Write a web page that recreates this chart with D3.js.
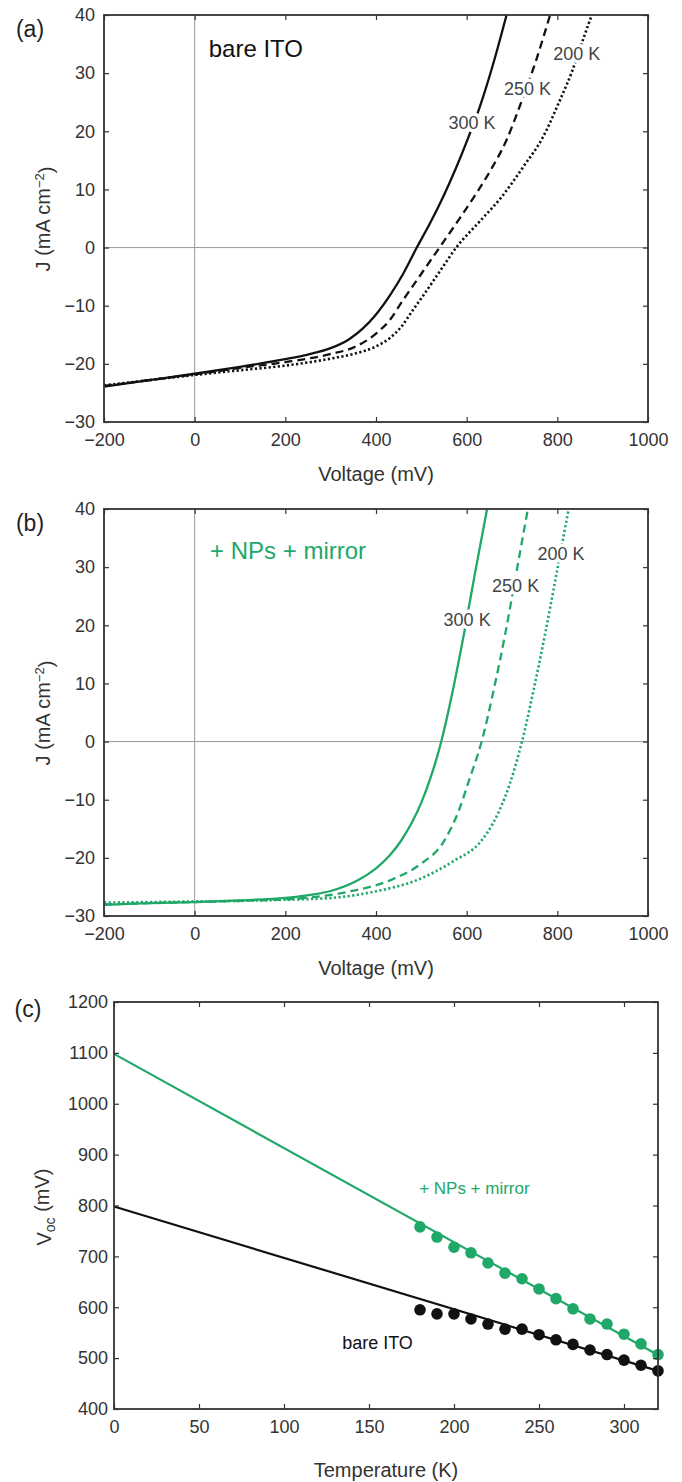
<!DOCTYPE html>
<html>
<head>
<meta charset="utf-8">
<script src="https://cdn.jsdelivr.net/npm/d3@7"></script>
<style>
  body { margin: 0; background: #fff; }
  svg text { font-family: "Liberation Sans", Arial, Helvetica, sans-serif; }
</style>
</head>
<body>
<div id="chart-area"></div>
<script>
// ---- data ----
// panel (a): bare ITO, J-V curves
let a300V = [-200, -100, 0, 100, 200, 250, 300, 340, 370, 400, 430, 460, 490, 520, 548, 576, 604, 629, 660, 688];
let a300J = [-23.9, -22.8, -21.7, -20.5, -19.2, -18.4, -17.3, -15.8, -14, -11.5, -8.3, -4.5, 0, 4.3, 8.7, 13.6, 19, 24.2, 32, 40];
let a250V = [-200, -100, 0, 100, 200, 300, 350, 400, 430, 460, 500, 540, 580, 622, 655, 688, 718, 751, 784];
let a250J = [-23.8, -22.8, -21.8, -20.7, -19.7, -18.3, -17.2, -14.8, -12.5, -9, -4.5, 0, 4.5, 9.4, 13.6, 18.5, 24.5, 31.7, 40];
let a200V = [-200, -100, 0, 100, 200, 300, 350, 400, 430, 455, 480, 510, 545, 577, 630, 677, 725, 769, 806, 832, 859, 876];
let a200J = [-23.7, -22.8, -21.9, -21.1, -20.3, -19.1, -18.3, -17.0, -15.6, -13.7, -10.9, -7.6, -3.6, 0, 4.6, 8.7, 13.9, 19.1, 25.4, 30.2, 36.3, 40];

// panel (b): + NPs + mirror
let b300V = [-200, -100, 0, 100, 200, 244, 300, 359, 400, 430, 455, 480, 500, 520, 544, 570, 594, 618, 645];
let b300J = [-28.1, -27.8, -27.6, -27.3, -26.9, -26.5, -25.7, -23.9, -21.8, -19.6, -17.1, -13.8, -10.5, -6.3, 0, 9, 18.5, 28.8, 40];
let b250V = [-200, -100, 0, 100, 244, 340, 436, 494, 551, 580, 606, 633, 660, 685, 709, 735];
let b250J = [-28.0, -27.8, -27.6, -27.4, -26.9, -25.8, -23.7, -21.3, -17, -12.4, -6.5, 0, 9, 18.5, 28.8, 40];
let b200V = [-200, -100, 0, 100, 200, 301, 397, 494, 570, 633, 657, 695, 722, 748, 773, 798, 825];
let b200J = [-27.7, -27.6, -27.5, -27.4, -27.2, -26.9, -25.8, -23.7, -20.6, -17, -14.2, -7.3, 0, 9, 18.5, 28.8, 40];

// panel (c): Voc vs temperature
let cTemp = [180, 190, 200, 210, 220, 230, 240, 250, 260, 270, 280, 290, 300, 310, 320];
let cGreen = [758, 738, 718, 707, 687, 667, 656, 636, 617, 597, 577, 567, 547, 528, 507];
let cBlack = [595, 587, 587, 577, 567, 557, 557, 546, 536, 527, 516, 507, 496, 486, 475];
let fitTemp = [0, 320];
let fitGreen = [1098, 506];
let fitBlack = [798, 475];

// ticks
let jvXTicks = [-200, 0, 200, 400, 600, 800, 1000];
let jvYTicks = [-30, -20, -10, 0, 10, 20, 30, 40];
let cXTicks = [0, 50, 100, 150, 200, 250, 300];
let cYTicks = [400, 500, 600, 700, 800, 900, 1000, 1100, 1200];
let tempLabels = ["300 K", "250 K", "200 K"];

const GREEN = "#20a868";
const AXIS = "#333";

let svg = d3.select("#chart-area")
        .append("svg")
        .attr("width", 682)
        .attr("height", 1482);

function zip(xs, ys){
    return xs.map(function(x, i){ return [x, ys[i]]; });
}

// frame, inward ticks on all four sides, labels on left and bottom
function drawAxes(g, x, y, xt, yt, left, bottom){
    let w = x.range()[1] - x.range()[0];
    let h = y.range()[0] - y.range()[1];
    g.append("g").attr("transform", "translate(0," + bottom + ")")
        .call(d3.axisBottom(x).tickValues(xt).tickSizeInner(-5).tickSizeOuter(0).tickPadding(11).tickFormat(d3.format("d")));
    g.append("g").attr("transform", "translate(" + left + ",0)")
        .call(d3.axisLeft(y).tickValues(yt).tickSizeInner(-5).tickSizeOuter(0).tickPadding(left > 110 ? 6 : 9)
            .tickFormat(function(d){ return d < 0 ? "\u2212" + Math.abs(d) : d; }));
    g.append("g").attr("transform", "translate(0," + (bottom - h) + ")")
        .call(d3.axisTop(x).tickValues(xt).tickSizeInner(-5).tickSizeOuter(0).tickFormat(""));
    g.append("g").attr("transform", "translate(" + (left + w) + ",0)")
        .call(d3.axisRight(y).tickValues(yt).tickSizeInner(-5).tickSizeOuter(0).tickFormat(""));
    g.selectAll(".domain").remove();
    g.selectAll(".tick line").attr("stroke", AXIS).attr("stroke-width", 1.2);
    g.selectAll(".tick text").attr("fill", AXIS).style("font-size", "18px");
    g.append("rect")
        .attr("x", left).attr("y", bottom - h)
        .attr("width", w).attr("height", h)
        .attr("fill", "none").attr("stroke", AXIS).attr("stroke-width", 1.8);
}

function haloText(g, txt, px, py, size, color, anchor){
    g.append("text")
        .attr("x", px).attr("y", py)
        .attr("dy", "0.35em")
        .attr("text-anchor", anchor || "middle")
        .attr("fill", color)
        .attr("stroke", "#fff").attr("stroke-width", 7)
        .attr("paint-order", "stroke")
        .style("font-size", size + "px")
        .text(txt);
}

function drawJV(cfg){
    let g = svg.append("g");
    let x = d3.scaleLinear().domain([-200, 1000]).range([104, 648]);
    let y = d3.scaleLinear().domain([-30, 40]).range([cfg.top + 407, cfg.top]);

    // zero lines
    g.append("line").attr("x1", x(0)).attr("x2", x(0)).attr("y1", y(-30)).attr("y2", y(40))
        .attr("stroke", "#999").attr("stroke-width", 1);
    g.append("line").attr("x1", x(-200)).attr("x2", x(1000)).attr("y1", y(0)).attr("y2", y(0))
        .attr("stroke", "#999").attr("stroke-width", 1);

    let line = d3.line()
        .x(function(d){ return x(d[0]); })
        .y(function(d){ return y(d[1]); })
        .curve(d3.curveMonotoneX);

    let dashes = [null, "8,5", "2.2,2.4"];
    cfg.curves.forEach(function(c, i){
        g.append("path")
            .datum(zip(c[0], c[1]))
            .attr("d", line)
            .attr("fill", "none")
            .attr("stroke", cfg.color)
            .attr("stroke-width", i == 2 ? 2.6 : 2.3)
            .attr("stroke-dasharray", dashes[i]);
    });

    // temperature labels (white halo breaks the curves as in the original)
    cfg.labels.forEach(function(p, i){
        haloText(g, tempLabels[i], x(p[0]), y(p[1]), 18, "#444");
    });

    haloText(g, cfg.title, x(cfg.titlePos[0]), y(cfg.titlePos[1]), 24, cfg.titleColor, "start");

    drawAxes(g, x, y, jvXTicks, jvYTicks, 104, cfg.top + 407);

    g.append("text").attr("x", 376).attr("y", cfg.top + 459).attr("dy", "0.35em")
        .attr("text-anchor", "middle").attr("fill", AXIS).style("font-size", "20px")
        .text("Voltage (mV)");
    let yl = g.append("text").attr("transform", "translate(43," + (cfg.top + 204) + ") rotate(-90)")
        .attr("dy", "0.35em").attr("text-anchor", "middle").attr("fill", AXIS).style("font-size", "20px");
    yl.append("tspan").text("J (mA cm");
    yl.append("tspan").attr("dy", "-0.45em").style("font-size", "13px").text("\u22122");
    yl.append("tspan").attr("dy", "0.45em").text(")");

    g.append("text").attr("x", 30).attr("y", cfg.top + 14).attr("dy", "0.35em")
        .attr("text-anchor", "middle").attr("fill", "#222").style("font-size", "23px")
        .text(cfg.tag);
}

drawJV({
    top: 15, tag: "(a)", color: "#111",
    curves: [[a300V, a300J], [a250V, a250J], [a200V, a200J]],
    labels: [[612, 21.4], [734, 27.3], [843, 33.3]],
    title: "bare ITO", titlePos: [31, 34.3], titleColor: "#111"
});

drawJV({
    top: 509, tag: "(b)", color: GREEN,
    curves: [[b300V, b300J], [b250V, b250J], [b200V, b200J]],
    labels: [[601, 20.9], [708, 26.8], [808, 32.3]],
    title: "+ NPs + mirror", titlePos: [34, 32.9], titleColor: GREEN
});

// ---- panel (c) ----
let gc = svg.append("g");
let xc = d3.scaleLinear().domain([0, 320]).range([114, 658]);
let yc = d3.scaleLinear().domain([400, 1200]).range([1409, 1002]);

let fitLine = d3.line()
    .x(function(d){ return xc(d[0]); })
    .y(function(d){ return yc(d[1]); });

gc.append("path").datum(zip(fitTemp, fitGreen)).attr("d", fitLine)
    .attr("fill", "none").attr("stroke", GREEN).attr("stroke-width", 2.2);
gc.append("path").datum(zip(fitTemp, fitBlack)).attr("d", fitLine)
    .attr("fill", "none").attr("stroke", "#111").attr("stroke-width", 2.2);

gc.selectAll("circle.green")
    .data(zip(cTemp, cGreen))
    .enter()
    .append("circle")
    .attr("class", "green")
    .attr("cx", function(d){ return xc(d[0]); })
    .attr("cy", function(d){ return yc(d[1]); })
    .attr("r", 5.8)
    .style("fill", GREEN);

gc.selectAll("circle.black")
    .data(zip(cTemp, cBlack))
    .enter()
    .append("circle")
    .attr("class", "black")
    .attr("cx", function(d){ return xc(d[0]); })
    .attr("cy", function(d){ return yc(d[1]); })
    .attr("r", 5.8)
    .style("fill", "#111");

gc.append("text").attr("x", xc(212)).attr("y", yc(834)).attr("dy", "0.35em")
    .attr("text-anchor", "middle").attr("fill", GREEN).style("font-size", "17px")
    .text("+ NPs + mirror");
gc.append("text").attr("x", xc(155)).attr("y", yc(530)).attr("dy", "0.35em")
    .attr("text-anchor", "middle").attr("fill", "#111").style("font-size", "18px")
    .text("bare ITO");

drawAxes(gc, xc, yc, cXTicks, cYTicks, 114, 1409);

gc.append("text").attr("x", 386).attr("y", 1470).attr("dy", "0.35em")
    .attr("text-anchor", "middle").attr("fill", AXIS).style("font-size", "20px")
    .text("Temperature (K)");
let vl = gc.append("text").attr("transform", "translate(44,1207) rotate(-90)")
    .attr("dy", "0.35em").attr("text-anchor", "middle").attr("fill", AXIS).style("font-size", "20px");
vl.append("tspan").text("V");
vl.append("tspan").attr("dy", "0.3em").style("font-size", "14px").text("oc");
vl.append("tspan").attr("dy", "-0.3em").text(" (mV)");

gc.append("text").attr("x", 28).attr("y", 1009).attr("dy", "0.35em")
    .attr("text-anchor", "middle").attr("fill", "#222").style("font-size", "23px")
    .text("(c)");
</script>
</body>
</html>
